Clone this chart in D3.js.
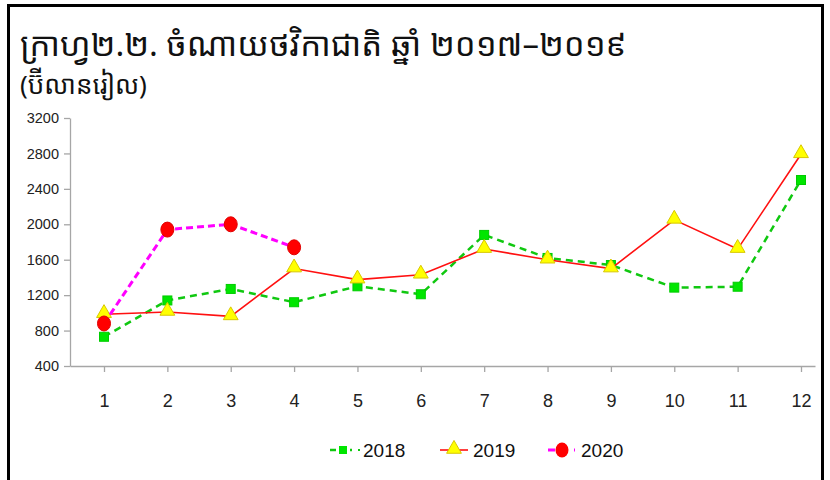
<!DOCTYPE html>
<html>
<head>
<meta charset="utf-8">
<script src="https://cdn.jsdelivr.net/npm/d3@7"></script>
<style>
  body { margin: 0; background: #fff; }
  svg { display: block; }
  .axis path, .axis line { stroke: #a6a6a6; }
  .axis text { fill: #222; font-family: "Liberation Sans", Arial, sans-serif; }
</style>
</head>
<body>
<div id="chart"></div>
<script>
const months = [1, 2, 3, 4, 5, 6, 7, 8, 9, 10, 11, 12];
const yTicks = [400, 800, 1200, 1600, 2000, 2400, 2800, 3200];
const values2018 = [730, 1140, 1270, 1120, 1300, 1210, 1880, 1620, 1540, 1285, 1295, 2500];
const values2019 = [985, 1010, 960, 1500, 1375, 1430, 1720, 1600, 1500, 2050, 1720, 2790];
const values2020 = [880, 1940, 2000, 1740];
const seriesNames = ["2018", "2019", "2020"];

const w = 830, h = 480;

const svg = d3.select("#chart")
    .append("svg")
    .attr("width", w)
    .attr("height", h);

// frame round the chart (bottom edge runs off the picture)
svg.append("rect")
    .attr("x", 8.5).attr("y", 5.5)
    .attr("width", 814).attr("height", 500)
    .attr("fill", "none")
    .attr("stroke", "#000")
    .attr("stroke-width", 3);

// titles
svg.append("text")
    .attr("x", 20).attr("y", 56)
    .attr("font-family", "'Noto Sans Khmer', 'Khmer OS', 'DejaVu Sans', sans-serif")
    .attr("font-size", 33)
    .attr("fill", "#111")
    .text("ក្រាហ្វ២.២. ចំណាយថវិកាជាតិ ឆ្នាំ ២០១៧–២០១៩");

svg.append("text")
    .attr("x", 20).attr("y", 94)
    .attr("font-family", "'Noto Sans Khmer', 'Khmer OS', 'DejaVu Sans', sans-serif")
    .attr("font-size", 26)
    .attr("fill", "#111")
    .text("(ប៊ីលានរៀល)");

// scales: axis runs from x=70 to 815, first month sits a bit in from the left
const x = d3.scaleLinear()
    .domain([0.4634, 12.221])
    .range([70, 815]);

const y = d3.scaleLinear()
    .domain([400, 3200])
    .range([366, 118]);

const xAxis = d3.axisBottom(x)
    .tickValues(months)
    .tickFormat(d3.format("d"))
    .tickSize(6)
    .tickSizeOuter(0)
    .tickPadding(22);

svg.append("g")
    .attr("class", "axis")
    .attr("transform", "translate(0,366)")
    .call(xAxis)
    .selectAll("text")
    .attr("font-size", 18);

const yAxis = d3.axisLeft(y)
    .tickValues(yTicks)
    .tickFormat(d3.format("d"))
    .tickSize(6)
    .tickSizeOuter(0)
    .tickPadding(5);

svg.append("g")
    .attr("class", "axis")
    .attr("transform", "translate(70,0)")
    .call(yAxis)
    .selectAll("text")
    .attr("font-size", 14.5);

svg.selectAll(".axis path, .axis line").attr("stroke-width", 1.3);

const line = d3.line()
    .x((d, i) => x(months[i]))
    .y(d => y(d));

// 2018 - green dashed with squares
svg.append("path")
    .datum(values2018)
    .attr("d", line)
    .attr("fill", "none")
    .attr("stroke", "#10c810")
    .attr("stroke-width", 2.5)
    .attr("stroke-dasharray", "7,5");

svg.selectAll(".sq")
    .data(values2018)
    .enter()
    .append("rect")
    .attr("class", "sq")
    .attr("x", (d, i) => x(months[i]) - 4.5)
    .attr("y", d => y(d) - 4.5)
    .attr("width", 9)
    .attr("height", 9)
    .attr("fill", "#00e600")
    .attr("stroke", "#00cc00")
    .attr("stroke-width", 1);

// 2019 - red solid with yellow triangles
svg.append("path")
    .datum(values2019)
    .attr("d", line)
    .attr("fill", "none")
    .attr("stroke", "#ff1010")
    .attr("stroke-width", 1.6);

const tri = d3.symbol().type(d3.symbolTriangle).size(95);

svg.selectAll(".tri")
    .data(values2019)
    .enter()
    .append("path")
    .attr("class", "tri")
    .attr("d", tri)
    .attr("transform", (d, i) => "translate(" + x(months[i]) + "," + (y(d) - 1) + ")")
    .attr("fill", "#ffff00")
    .attr("stroke", "#d8c800")
    .attr("stroke-width", 1);

// 2020 - magenta dashed with red circles
svg.append("path")
    .datum(values2020)
    .attr("d", line)
    .attr("fill", "none")
    .attr("stroke", "#ff00ff")
    .attr("stroke-width", 3)
    .attr("stroke-dasharray", "7,4");

svg.selectAll(".dot")
    .data(values2020)
    .enter()
    .append("ellipse")
    .attr("class", "dot")
    .attr("cx", (d, i) => x(months[i]))
    .attr("cy", d => y(d))
    .attr("rx", 6.5)
    .attr("ry", 7.5)
    .attr("fill", "#ff0000")
    .attr("stroke", "#e00000")
    .attr("stroke-width", 1);

// legend
const legend = svg.append("g")
    .attr("transform", "translate(0,450)");

const lx = [330, 440, 548];

// 2018
legend.append("line")
    .attr("x1", lx[0]).attr("x2", lx[0] + 22)
    .attr("stroke", "#10c810").attr("stroke-width", 2.5)
    .attr("stroke-dasharray", "6,4");
legend.append("rect")
    .attr("x", lx[0] + 9).attr("y", -4)
    .attr("width", 8).attr("height", 8)
    .attr("fill", "#00e600");
legend.append("rect")
    .attr("x", lx[0] + 28).attr("y", -1)
    .attr("width", 2).attr("height", 2)
    .attr("fill", "#10c810");

// 2019
legend.append("line")
    .attr("x1", lx[1]).attr("x2", lx[1] + 28)
    .attr("stroke", "#ff1010").attr("stroke-width", 1.6);
legend.append("path")
    .attr("d", tri)
    .attr("transform", "translate(" + (lx[1] + 14) + ",-1)")
    .attr("fill", "#ffff00")
    .attr("stroke", "#d8c800");

// 2020
legend.append("line")
    .attr("x1", lx[2]).attr("x2", lx[2] + 27)
    .attr("stroke", "#ff00ff").attr("stroke-width", 3)
    .attr("stroke-dasharray", "7,6");
legend.append("ellipse")
    .attr("cx", lx[2] + 14).attr("cy", 0)
    .attr("rx", 6.5).attr("ry", 7.5)
    .attr("fill", "#ff0000");

legend.selectAll(".ltext")
    .data(seriesNames)
    .enter()
    .append("text")
    .attr("class", "ltext")
    .attr("x", (d, i) => [363, 473, 581][i])
    .attr("y", 7)
    .attr("font-family", "'Liberation Sans', Arial, sans-serif")
    .attr("font-size", 19)
    .attr("fill", "#111")
    .text(d => d);
</script>
</body>
</html>
